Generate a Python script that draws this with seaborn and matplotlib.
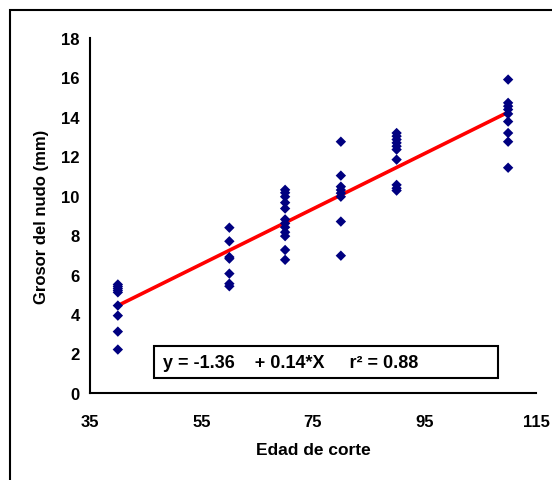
import numpy as np
import pandas as pd
import matplotlib
matplotlib.use("Agg")
import matplotlib.pyplot as plt
from matplotlib.patches import Rectangle
import seaborn as sns

# Cutting age (days) and node thickness (mm) for each sampled plant
edad_40 = [40] * 9
grosor_40 = [5.5, 5.4, 5.3, 5.2, 5.1, 4.43, 3.92, 3.11, 2.2]
edad_60 = [60] * 7
grosor_60 = [8.38, 7.69, 6.89, 6.81, 6.05, 5.54, 5.41]
edad_70 = [70] * 12
grosor_70 = [10.3, 10.15, 9.95, 9.65, 9.35, 8.8, 8.6, 8.4, 8.15, 7.95, 7.25, 6.75]
edad_80 = [80] * 8
grosor_80 = [12.74, 11.02, 10.46, 10.29, 10.13, 9.95, 8.69, 6.96]
edad_90 = [90] * 10
grosor_90 = [13.18, 13.02, 12.85, 12.68, 12.51, 12.34, 11.83, 10.55, 10.38, 10.26]
edad_110 = [110] * 9
grosor_110 = [15.89, 14.71, 14.54, 14.37, 14.15, 13.76, 13.18, 12.74, 11.42]

x_ticks = [35, 55, 75, 95, 115]
y_ticks = [0, 2, 4, 6, 8, 10, 12, 14, 16, 18]
ecuacion = "y = -1.36    + 0.14*X     r² = 0.88"

df = pd.DataFrame({
    "edad": edad_40 + edad_60 + edad_70 + edad_80 + edad_90 + edad_110,
    "grosor": grosor_40 + grosor_60 + grosor_70 + grosor_80 + grosor_90 + grosor_110,
})

sns.set_style("white")
plt.rcParams["font.family"] = ["Liberation Sans", "DejaVu Sans"]
plt.rcParams["font.weight"] = "bold"
for key in ("text.color", "axes.labelcolor", "xtick.color", "ytick.color"):
    plt.rcParams[key] = "black"

fig = plt.figure(figsize=(5.52, 4.81), dpi=100)
ax = fig.add_axes([0.163, 0.181, 0.808, 0.738])

# Regression line fitted to the data
sns.regplot(data=df, x="edad", y="grosor", scatter=False, ci=None, truncate=True,
            color="#ff0000", line_kws={"linewidth": 2.6, "zorder": 2}, ax=ax)
sns.scatterplot(data=df, x="edad", y="grosor", marker="D", s=28, color="#000080",
                edgecolor="none", linewidth=0, zorder=3, ax=ax)

ax.set_xlim(35, 115)
ax.set_ylim(0, 18)
ax.set_xticks(x_ticks)
ax.set_yticks(y_ticks)
ax.set_xticklabels([str(t) for t in x_ticks], fontweight="bold", fontsize=12)
ax.set_yticklabels([str(t) for t in y_ticks], fontweight="bold", fontsize=12)
ax.tick_params(axis="both", direction="out", length=3.5, width=1.5, color="black")
ax.tick_params(axis="y", pad=4)
ax.tick_params(axis="x", pad=12)

for side in ("top", "right"):
    ax.spines[side].set_visible(False)
for side in ("left", "bottom"):
    ax.spines[side].set_color("black")
    ax.spines[side].set_linewidth(1.5)

ax.set_xlabel("Edad de corte", fontweight="bold", fontsize=12.5, labelpad=9)
ax.set_ylabel("Grosor del nudo (mm)", fontweight="bold", fontsize=12, labelpad=9)

# Equation box
ax.add_patch(Rectangle((0.1435, 0.042), 0.7715, 0.09, transform=ax.transAxes,
                       facecolor="white", edgecolor="black", linewidth=1.5, zorder=4))
ax.text(0.164, 0.087, ecuacion, transform=ax.transAxes, fontsize=13, fontweight="bold",
        ha="left", va="center", zorder=5)

# Chart area frame
fig.patches.append(Rectangle((10 / 552, -0.05), 1.2, 1 - 11 / 481 + 0.05,
                             transform=fig.transFigure, fill=False,
                             edgecolor="black", linewidth=1.5))

fig.savefig("out.png", dpi=100)
